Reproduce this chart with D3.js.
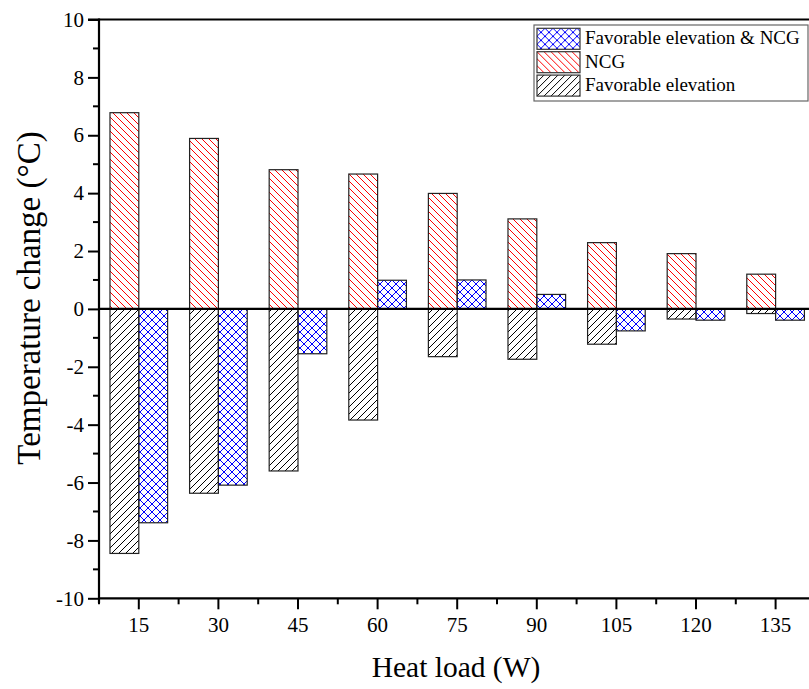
<!DOCTYPE html>
<html>
<head>
<meta charset="utf-8">
<script src="https://cdn.jsdelivr.net/npm/d3@7"></script>
<style>
  html,body{margin:0;padding:0;background:#fff;}
  svg{display:block;font-family:"Liberation Serif","Times New Roman",serif;}
  svg text{font-family:"Liberation Serif","Times New Roman",serif;}
</style>
</head>
<body>
<div id="chart"></div>
<script>
// heat loads (W) and temperature change per case (°C)
var heatLoads=["15","30","45","60","75","90","105","120","135"];
var favElev=[-8.45,-6.37,-5.6,-3.84,-1.65,-1.74,-1.22,-0.35,-0.16];
var ncg=[6.78,5.89,4.81,4.66,3.99,3.11,2.29,1.91,1.2];
var favNcg=[-7.39,-6.09,-1.55,0.99,1.0,0.5,-0.76,-0.39,-0.39];
var yTicks=[-10,-8,-6,-4,-2,0,2,4,6,8,10];
var legendItems=[
    {key:"Favorable elevation & NCG",fill:"url(#pBlue)"},
    {key:"NCG",fill:"url(#pRed)"},
    {key:"Favorable elevation",fill:"url(#pBlack)"}
];

var W=809,H=689;
var mLeft=99, mTop=19.5, mBottom=598.3, step=79.6;
var svg=d3.select("#chart").append("svg").attr("width",W).attr("height",H);

// hatch patterns
var defs=svg.append("defs");
function hatch(id,size,d,color){
    defs.append("pattern").attr("id",id).attr("patternUnits","userSpaceOnUse")
        .attr("width",size).attr("height",size)
        .append("path").attr("d",d).attr("stroke",color).attr("stroke-width",1).attr("fill","none");
}
hatch("pBlack",7,"M-1,1 l2,-2 M0,7 l7,-7 M6,8 l2,-2","#000");
hatch("pRed",7,"M-1,6 l2,2 M0,0 l7,7 M6,-1 l2,2","#ff0000");
hatch("pBlue",8,"M-1,1 l2,-2 M0,8 l8,-8 M7,9 l2,-2 M-1,7 l2,2 M0,0 l8,8 M7,-1 l2,2","#0000ff");

var x=d3.scaleBand().domain(heatLoads).range([mLeft,mLeft+step*heatLoads.length]).padding(0);
var y=d3.scaleLinear().domain([-10,10]).range([mBottom,mTop]);
var bw=x.bandwidth()*0.362;
function cx(k){return x(k)+x.bandwidth()/2;}

// bars: black + red share the left slot, blue on the right
function bars(vals,fill,side){
    svg.append("g").selectAll("rect").data(vals).enter().append("rect")
        .attr("x",function(d,i){return side<0?cx(heatLoads[i])-bw:cx(heatLoads[i]);})
        .attr("y",function(d){return y(Math.max(0,d));})
        .attr("width",bw)
        .attr("height",function(d){return Math.abs(y(d)-y(0));})
        .attr("fill",fill).attr("stroke","#222").attr("stroke-width",1.2);
}
bars(favElev,"url(#pBlack)",-1);
bars(ncg,"url(#pRed)",-1);
bars(favNcg,"url(#pBlue)",1);

// zero line
svg.append("line").attr("x1",mLeft).attr("x2",W).attr("y1",y(0)).attr("y2",y(0))
    .attr("stroke","#000").attr("stroke-width",2.2);

// axes
var yAxis=d3.axisLeft(y).tickValues(yTicks).tickSize(11).tickPadding(4).tickFormat(function(d){return String(d);});
var gy=svg.append("g").attr("transform","translate("+mLeft+",0)").call(yAxis);
var yMinor=d3.range(-9,10,2);
gy.selectAll(".minor").data(yMinor).enter().append("line").attr("class","minor")
    .attr("x1",0).attr("x2",-6).attr("y1",y).attr("y2",y).attr("stroke","#000").attr("stroke-width",2);

var xAxis=d3.axisBottom(x).tickSize(11).tickPadding(8);
var gx=svg.append("g").attr("transform","translate(0,"+mBottom+")").call(xAxis);
var xMinor=heatLoads.map(function(k){return x(k);}).concat([x(heatLoads[8])+step]);
gx.selectAll(".minor").data(xMinor).enter().append("line").attr("class","minor")
    .attr("x1",function(d){return d;}).attr("x2",function(d){return d;})
    .attr("y1",0).attr("y2",6).attr("stroke","#000").attr("stroke-width",2);

[gx,gy].forEach(function(g){
    g.attr("font-family",null).attr("font-size",null);
    g.selectAll(".tick text").style("font-size","21px")
        .style("font-family","'Liberation Serif','Times New Roman',serif").attr("fill","#000");
    g.select(".domain").attr("stroke","#000").attr("stroke-width",2.2);
    g.selectAll(".tick line").attr("stroke","#000").attr("stroke-width",2);
});
gx.select(".domain").attr("d","M"+(mLeft-1)+",0H"+W);
gy.select(".domain").attr("d","M0,"+(mTop-1)+"V"+(mBottom+5));
// top frame
svg.append("line").attr("x1",mLeft-11).attr("x2",W).attr("y1",mTop).attr("y2",mTop)
    .attr("stroke","#000").attr("stroke-width",2.2);

// axis titles
svg.append("text").attr("x",456).attr("y",677).attr("text-anchor","middle")
    .style("font-size","29.5px").text("Heat load (W)");
svg.append("text").attr("transform","translate(40,298) rotate(-90)").attr("text-anchor","middle")
    .style("font-size","33px").text("Temperature change (°C)");

// legend
var lg=svg.append("g").attr("transform","translate(534,25)");
lg.append("rect").attr("width",274).attr("height",76).attr("fill","#fff")
    .attr("stroke","#666").attr("stroke-width",1.2);
legendItems.forEach(function(p,i){
    var r=lg.append("g").attr("transform","translate(3,"+(3.3+i*23.4)+")");
    r.append("rect").attr("width",43).attr("height",21).attr("fill",p.fill)
        .attr("stroke","#333").attr("stroke-width",1.2);
    r.append("text").attr("x",48).attr("y",16).style("font-size","19px").text(p.key);
});
</script>
</body>
</html>
